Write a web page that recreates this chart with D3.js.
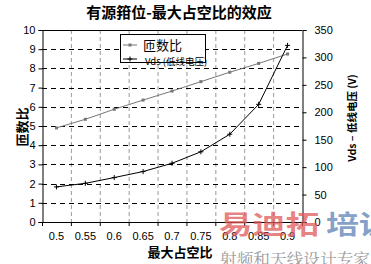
<!DOCTYPE html>
<html><head><meta charset="utf-8">
<script src="https://cdn.jsdelivr.net/npm/d3@7"></script>
<style>body{margin:0;background:#fff}svg{display:block}</style>
</head><body>
<script>
const categories = ["0.5","0.55","0.6","0.65","0.7","0.75","0.8","0.85","0.9"];
const turnsRatio = [4.9,5.35,5.87,6.35,6.82,7.31,7.8,8.26,8.75];
const vds = [64,70.5,81,92,107,128,160,214.5,322];
const leftTicks = [0,1,2,3,4,5,6,7,8,9,10];
const rightTicks = [0,50,100,150,200,250,300,350];

const W=371,H=264;
const svg=d3.select("body").append("svg").attr("width",W).attr("height",H);
const L=42,R=302,T=30,B=222;
const x=d3.scaleBand().domain(categories).range([L,R]).padding(0);
const yL=d3.scaleLinear().domain([0,10]).range([B,T]);
const yR=d3.scaleLinear().domain([0,350]).range([B,T]);
const cx=c=>x(c)+x.bandwidth()/2;
const font="'Liberation Sans',Arial,sans-serif";
const cjk="'Noto Sans CJK SC','Noto Sans',sans-serif";

// vertical grid (gray dashed)
svg.append("g").selectAll("line").data(categories.slice(1)).join("line")
 .attr("x1",d=>x(d)+0.5).attr("x2",d=>x(d)+0.5).attr("y1",T).attr("y2",B)
 .attr("stroke","#999").attr("stroke-dasharray","4,3");
// horizontal grid (black dashed)
svg.append("g").selectAll("line").data(leftTicks.slice(1,-1)).join("line")
 .attr("x1",L).attr("x2",R).attr("y1",d=>Math.round(yL(d))+0.5).attr("y2",d=>Math.round(yL(d))+0.5)
 .attr("stroke","#000").attr("stroke-dasharray","5,4");

// axes
const gl=svg.append("g").attr("transform",`translate(${L+0.5},0)`)
 .call(d3.axisLeft(yL).tickValues(leftTicks).tickSize(4).tickPadding(3).tickFormat(d3.format("d")));
const gr=svg.append("g").attr("transform",`translate(${R+0.5},0)`)
 .call(d3.axisRight(yR).tickValues(rightTicks).tickSize(4).tickPadding(8).tickFormat(d3.format("d")));
const gb=svg.append("g").attr("transform",`translate(0,${B+0.5})`)
 .call(d3.axisBottom(x).tickSize(0).tickPadding(10));
// bottom ticks at band boundaries
svg.append("g").selectAll("line").data(categories.concat(["end"])).join("line")
 .attr("x1",(d,i)=>L+i*x.bandwidth()+0.5).attr("x2",(d,i)=>L+i*x.bandwidth()+0.5)
 .attr("y1",B).attr("y2",B+4).attr("stroke","#000");
[gl,gr,gb].forEach(g=>{g.selectAll("path").attr("stroke","#000");g.selectAll("line").attr("stroke","#000");
 g.selectAll("text").attr("font-family",font).attr("font-size",11).attr("fill","#000");});
gb.select("path").remove();
svg.append("line").attr("x1",L).attr("x2",R).attr("y1",B+0.5).attr("y2",B+0.5).attr("stroke","#000");
svg.append("line").attr("x1",L).attr("x2",R).attr("y1",T+0.5).attr("y2",T+0.5).attr("stroke","#000");

// series lines
const line1=d3.line().x((d,i)=>cx(categories[i])).y(d=>yL(d));
const line2=d3.line().x((d,i)=>cx(categories[i])).y(d=>yR(d));
svg.append("path").datum(turnsRatio).attr("d",line1).attr("fill","none").attr("stroke","#777").attr("stroke-width",1);
svg.append("g").selectAll("rect").data(turnsRatio).join("rect")
 .attr("x",(d,i)=>cx(categories[i])-1.5).attr("y",d=>yL(d)-1.5).attr("width",3).attr("height",3).attr("fill","#777");
svg.append("path").datum(vds).attr("d",line2).attr("fill","none").attr("stroke","#000").attr("stroke-width",1);
svg.append("g").selectAll("path").data(vds).join("path")
 .attr("d",(d,i)=>{const px=cx(categories[i]),py=yR(d);return `M${px-2.5},${py}H${px+2.5}M${px},${py-2.5}V${py+2.5}`;})
 .attr("stroke","#000").attr("stroke-width",1);

// legend
const lg=svg.append("g");
lg.append("rect").attr("x",120.5).attr("y",34.5).attr("width",85).attr("height",28).attr("fill","#fff");
lg.append("line").attr("x1",123).attr("x2",137).attr("y1",45).attr("y2",45).attr("stroke","#777");
lg.append("rect").attr("x",128.5).attr("y",43.5).attr("width",3).attr("height",3).attr("fill","#777");
lg.append("text").attr("x",143).attr("y",50).text("匝数比").attr("font-family",cjk).attr("font-size",13);
lg.append("line").attr("x1",123).attr("x2",137).attr("y1",59).attr("y2",59).attr("stroke","#000");
lg.append("path").attr("d","M130,56.5V61.5M127.5,59H132.5").attr("stroke","#000");
lg.append("text").attr("x",145).attr("y",65).text("Vds (低线电压)").attr("font-family",cjk).attr("font-size",9.5);
lg.append("rect").attr("x",120.5).attr("y",34.5).attr("width",85).attr("height",28).attr("fill","none").attr("stroke","#000");

// titles
svg.append("text").attr("x",179).attr("y",18).attr("text-anchor","middle").text("有源箝位-最大占空比的效应")
 .attr("font-family",cjk).attr("font-weight","bold").attr("font-size",15);
svg.append("text").attr("x",180).attr("y",257).attr("text-anchor","middle").text("最大占空比")
 .attr("font-family",cjk).attr("font-weight","bold").attr("font-size",13);
svg.append("text").attr("transform","translate(27,127) rotate(-90)").attr("text-anchor","middle").text("匝数比")
 .attr("font-family",cjk).attr("font-weight","bold").attr("font-size",13);
svg.append("text").attr("transform","translate(356,118) rotate(-90)").attr("text-anchor","middle").text("Vds – 低线电压 (V)")
 .attr("font-family",cjk).attr("font-weight","bold").attr("font-size",10.5);

// watermark
const wm=svg.append("g");
wm.append("text").attr("x",219).attr("y",234).text("易迪拓").attr("font-family",cjk).attr("font-weight","bold")
 .attr("font-size",26).attr("fill","#e05a5a").attr("fill-opacity",0.75).attr("textLength",100).attr("lengthAdjust","spacingAndGlyphs");
wm.append("text").attr("x",326).attr("y",234).text("培训").attr("font-family",cjk).attr("font-weight","bold")
 .attr("font-size",26).attr("fill","#6f8fc0").attr("fill-opacity",0.85).attr("textLength",66).attr("lengthAdjust","spacingAndGlyphs");
wm.append("text").attr("x",220).attr("y",265).text("射频和天线设计专家").attr("font-family","'Noto Serif CJK SC','Noto Sans CJK SC',serif")
 .attr("font-size",16).attr("fill","#9a9a9a").attr("textLength",150).attr("lengthAdjust","spacingAndGlyphs");
</script>
</body></html>
